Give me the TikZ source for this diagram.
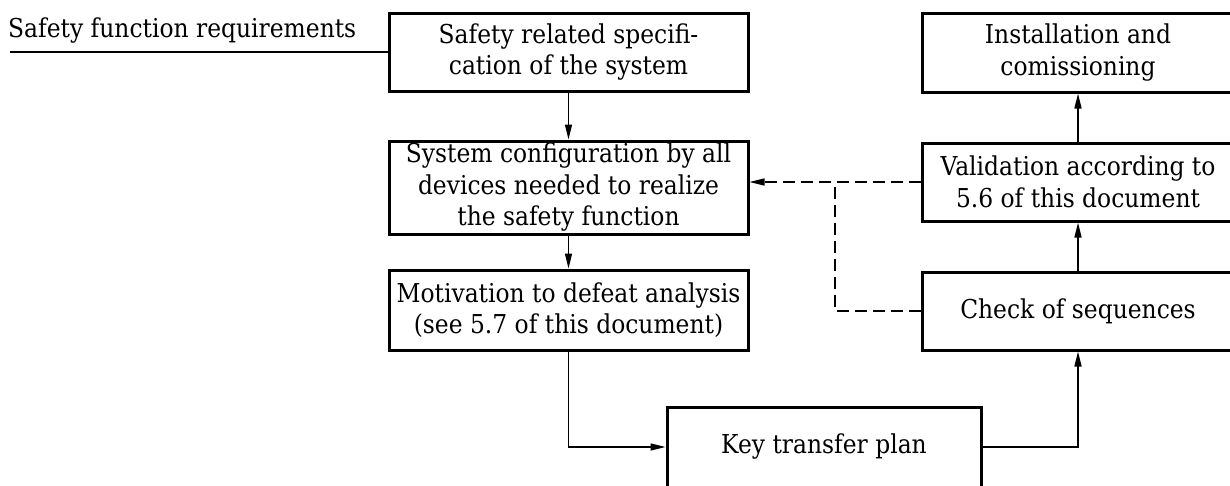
\documentclass[tikz,border=0pt]{standalone}
\usepackage{fontspec}
\setmainfont[FakeStretch=0.9]{DejaVu Serif}
\usetikzlibrary{arrows.meta}
\begin{document}
\begin{tikzpicture}[x=1pt,y=-1pt,
  txt/.style={font=\fontsize{26}{31.5}\selectfont},
  box/.style={draw, line width=3pt, inner sep=0pt, align=center, txt},
  conn/.style={line width=1.5pt},
  arr/.style={conn, -{Triangle[length=15pt,width=7pt]}},
  dashline/.style={conn, dash pattern=on 12pt off 6pt}]
\useasboundingbox (0,0) rectangle (1230,485);

% left column
\node[box, minimum width=359pt, minimum height=78pt] (spec) at (568.5,52)
  {Safety related specifi-\\cation of the system};
\node[box, minimum width=359pt, minimum height=93pt] (cfg) at (568.5,187.5)
  {System configuration by all\\devices needed to realize\\the safety function};
\node[box, minimum width=359pt, minimum height=80pt] (mot) at (568.5,310)
  {Motivation to defeat analysis\\(see 5.7 of this document)};
\node[box, minimum width=314pt, minimum height=80pt] (key) at (824,447)
  {Key transfer plan};

% right column
\node[box, minimum width=312pt, minimum height=79pt] (inst) at (1078,52.5)
  {Installation and\\comissioning};
\node[box, minimum width=312pt, minimum height=78pt] (val) at (1078,182)
  {Validation according to\\5.6 of this document};
\node[box, minimum width=312pt, minimum height=78pt] (chk) at (1078,311)
  {Check of sequences};

% input label
\node[txt, anchor=base west, inner sep=0pt] (req) at (8,37) {Safety function requirements};
\coordinate (reqstart) at (10,52);
\draw[conn] (reqstart) -- (spec.west);

% main flow
\draw[arr] (spec.south) -- (cfg.north);
\draw[arr] (cfg.south) -- (mot.north);
\draw[arr] (mot.south) |- (key.west);
\draw[arr] (key.east) -| (chk.south);
\draw[arr] (chk.north) -- (val.south);
\draw[arr] (val.north) -- (inst.south);

% feedback
\coordinate (fb) at (835,182);
\draw[dashline, -{Triangle[length=15pt,width=7pt]}] (val.west) -- (val.west -| cfg.east);
\draw[dashline] (chk.west) -| (fb);
\end{tikzpicture}
\end{document}
